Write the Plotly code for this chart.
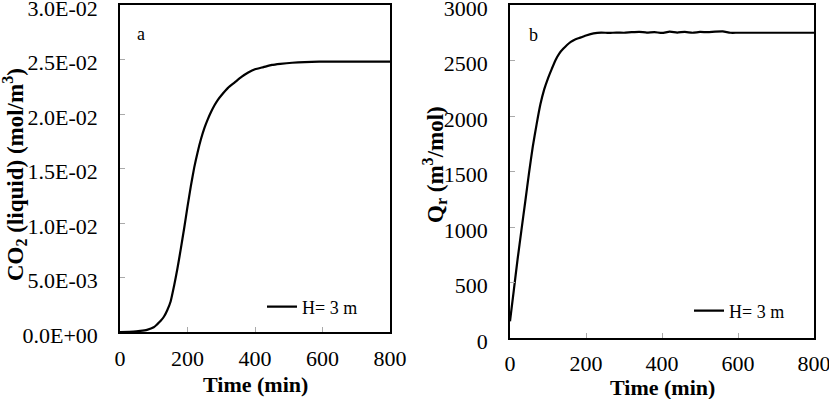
import plotly.graph_objects as go

# ---- data ----
time_a = [0, 40, 60, 80, 100, 110, 120, 130, 140, 150, 160, 170, 180, 190, 200, 210, 220,
          230, 240, 250, 260, 270, 280, 290, 300, 320, 340, 360, 380, 400, 425, 450, 475,
          510, 590, 700, 800]
co2_liquid = [0.0, 0.00003, 0.0001, 0.0002, 0.00043, 0.0007, 0.0010, 0.0014, 0.0020,
              0.0028, 0.0042, 0.0058, 0.0076, 0.0095, 0.0115, 0.0134, 0.0151, 0.0165,
              0.0177, 0.0187, 0.0195, 0.0202, 0.0208, 0.0213, 0.0217, 0.0224, 0.0229,
              0.0234, 0.0238, 0.0241, 0.0243, 0.0245, 0.0246, 0.0247, 0.0248, 0.0248,
              0.0248]

time_b = [0, 10, 20, 30, 40, 50, 60, 70, 80, 90, 100, 110, 120, 130, 140, 150, 160, 170,
          180, 190, 200, 220, 240, 260, 280, 300, 320, 340, 360, 380, 400, 420, 440, 460,
          480, 500, 520, 540, 560, 580, 600, 700, 800]
qr = [150, 430, 710, 970, 1225, 1485, 1725, 1925, 2105, 2240, 2340, 2425, 2505, 2565,
      2605, 2640, 2668, 2688, 2700, 2712, 2725, 2745, 2752, 2748, 2752, 2750, 2755, 2758,
      2752, 2756, 2748, 2760, 2752, 2758, 2750, 2757, 2755, 2760, 2762, 2750, 2750, 2750,
      2750]

series_name = "H= 3 m"
x_ticks = [0, 200, 400, 600, 800]
ya_ticks = [0, 0.005, 0.010, 0.015, 0.020, 0.025, 0.030]
ya_labels = ["0.0E+00", "5.0E-03", "1.0E-02", "1.5E-02", "2.0E-02", "2.5E-02", "3.0E-02"]
yb_ticks = [0, 500, 1000, 1500, 2000, 2500, 3000]

FONT = "Liberation Serif"
W, H = 829, 399

fig = go.Figure()
fig.add_trace(go.Scatter(x=time_a, y=co2_liquid, mode="lines", name=series_name,
                         line=dict(color="black", width=2.2, shape="spline", smoothing=0.5),
                         xaxis="x", yaxis="y", legend="legend"))
fig.add_trace(go.Scatter(x=time_b, y=qr, mode="lines", name=series_name,
                         line=dict(color="black", width=2.2, shape="spline", smoothing=0.5),
                         xaxis="x2", yaxis="y2", legend="legend2"))


def axis_style(**kw):
    d = dict(showline=True, linecolor="black", linewidth=1.5, mirror=True,
             ticks="inside", ticklen=5, tickcolor="#aaaaaa", tickwidth=1,
             showgrid=False, zeroline=False, ticklabeloverflow="allow",
             automargin=False,
             tickfont=dict(family=FONT, size=22, color="black"))
    d.update(kw)
    return d


def px_x(p):
    return p / W


def px_y(p):
    return (H - p) / H


fig.update_layout(
    template="none",
    width=W, height=H,
    margin=dict(l=0, r=0, t=0, b=0, pad=0),
    paper_bgcolor="white", plot_bgcolor="white",
    font=dict(family=FONT, color="black", size=22),
    xaxis=axis_style(domain=[px_x(120), px_x(390)], range=[0, 800], tickvals=x_ticks,
                     anchor="y", ticklabelstandoff=6),
    yaxis=axis_style(domain=[px_y(332), px_y(5)], range=[0, 0.03], tickvals=ya_ticks,
                     ticktext=ya_labels, anchor="x", ticklabelstandoff=16,
                     ticklabelshift=3),
    xaxis2=axis_style(domain=[px_x(510), px_x(814)], range=[0, 800], tickvals=x_ticks,
                      anchor="y2", ticklabelstandoff=5),
    yaxis2=axis_style(domain=[px_y(338), px_y(5)], range=[0, 3000], tickvals=yb_ticks,
                      anchor="x2", ticklabelstandoff=16, ticklabelshift=3),
    legend=dict(x=px_x(262), y=px_y(307), xanchor="left", yanchor="middle",
                bgcolor="rgba(0,0,0,0)", borderwidth=0,
                font=dict(family=FONT, size=18, color="black"), itemwidth=30),
    legend2=dict(x=px_x(689), y=px_y(311), xanchor="left", yanchor="middle",
                 bgcolor="rgba(0,0,0,0)", borderwidth=0,
                 font=dict(family=FONT, size=18, color="black"), itemwidth=30),
    showlegend=True,
)

ann_font = dict(family=FONT, size=22, color="black")
annotations = [
    dict(text="<b>Time (min)</b>", x=px_x(256), y=px_y(384), xref="paper", yref="paper",
         showarrow=False, font=ann_font, xanchor="center", yanchor="middle"),
    dict(text="<b>Time (min)</b>", x=px_x(662), y=px_y(387), xref="paper", yref="paper",
         showarrow=False, font=ann_font, xanchor="center", yanchor="middle"),
    dict(text="<b>CO<sub>2</sub> (liquid) (mol/m<sup>3</sup>)</b>", x=px_x(14), y=px_y(175),
         xref="paper", yref="paper", showarrow=False,
         font=dict(family=FONT, size=23, color="black"), textangle=-90,
         xanchor="center", yanchor="middle"),
    dict(text="<b>Q<sub>r</sub> (m<sup>3</sup>/mol)</b>", x=px_x(434), y=px_y(165),
         xref="paper", yref="paper", showarrow=False,
         font=dict(family=FONT, size=23, color="black"), textangle=-90,
         xanchor="center", yanchor="middle"),
    dict(text="a", x=px_x(141), y=px_y(34), xref="paper", yref="paper", showarrow=False,
         font=dict(family=FONT, size=18, color="black"), xanchor="center", yanchor="middle"),
    dict(text="b", x=px_x(533), y=px_y(35), xref="paper", yref="paper", showarrow=False,
         font=dict(family=FONT, size=18, color="black"), xanchor="center", yanchor="middle"),
]
fig.update_layout(annotations=annotations)

fig.write_html("out.html")
